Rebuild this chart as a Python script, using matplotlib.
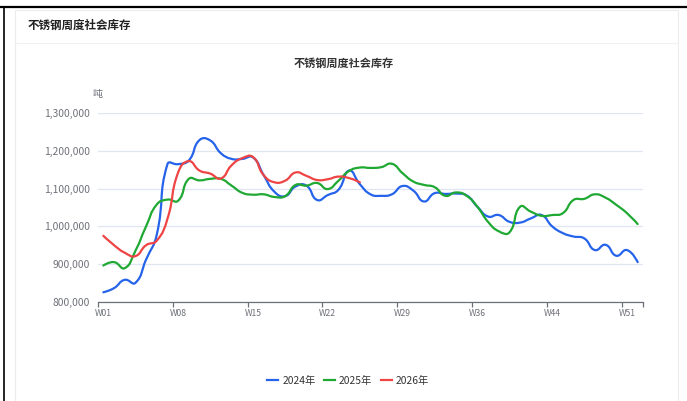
import numpy as np
import matplotlib
matplotlib.use('Agg')
import matplotlib.pyplot as plt
from matplotlib.path import Path
from matplotlib.patches import PathPatch, Rectangle
from matplotlib.lines import Line2D

plt.rcParams['font.family'] = ['Noto Sans CJK SC', 'DejaVu Sans']

# ---------------- data ----------------
weeks = ['W%02d' % i for i in range(1, 53) if i != 40]
label_weeks = ['W01', 'W08', 'W15', 'W22', 'W29', 'W36', 'W44', 'W51']
series_names = ['2024年', '2025年', '2026年']

inv_2024 = [825, 836, 858, 850, 912, 978, 1165, 1165, 1175, 1229,
            1228, 1194, 1179, 1179, 1183, 1136, 1092, 1080, 1106, 1108,
            1070, 1083, 1097, 1148, 1112, 1085, 1081, 1085, 1107, 1095,
            1066, 1088, 1086, 1087, 1082, 1052, 1026, 1030, 1012, 1010,
            1021, 1030, 1000, 982, 973, 968, 937, 951, 922, 937, 905]
inv_2025 = [896, 905, 889, 935, 1000, 1058, 1071, 1068, 1126, 1122,
            1126, 1126, 1108, 1089, 1084, 1085, 1078, 1080, 1110, 1108,
            1115, 1099, 1121, 1147, 1156, 1155, 1157, 1166, 1141, 1119,
            1110, 1104, 1081, 1090, 1081, 1052, 1012, 987, 984, 1052,
            1039, 1028, 1030, 1035, 1070, 1073, 1085, 1076, 1057, 1035, 1006]
inv_2026 = [975, 950, 930, 921, 950, 962, 1020, 1143, 1173, 1148,
            1140, 1127, 1162, 1181, 1184, 1136, 1117, 1121, 1143, 1134,
            1123, 1125, 1132, 1128, 1117]

colors = ['#2563eb', '#1fa832', '#ee4444']

W, H = 687, 401


def fx(px):
    return px / W


def fy(py):
    return 1 - py / H


def smooth_path(xs, ys, sx, sy, smooth=0.5):
    """ECharts-style bezier smoothing computed in pixel space."""
    P = np.column_stack([np.asarray(xs, float) * sx, np.asarray(ys, float) * sy])
    n = len(P)
    verts = [P[0]]
    codes = [Path.MOVETO]
    cp0 = P[0].copy()
    for i in range(1, n):
        p = P[i]
        prev = P[i - 1]
        if i + 1 < n:
            nxt = P[i + 1]
            v = nxt - prev
            l0 = np.hypot(*(p - prev))
            l1 = np.hypot(*(nxt - p))
            r = l1 / (l0 + l1) if (l0 + l1) > 0 else 0.5
            cp1 = p - v * smooth * (1 - r)
            ncp0 = p + v * smooth * r
        else:
            cp1 = p.copy()
            ncp0 = p.copy()
        verts += [cp0, cp1, p]
        codes += [Path.CURVE4] * 3
        cp0 = ncp0
    V = np.array(verts)
    V[:, 0] /= sx
    V[:, 1] /= sy
    return Path(V, codes)


fig = plt.figure(figsize=(W / 100, H / 100), dpi=100)

# outer frame lines
fig.add_artist(Line2D([0, 1], [fy(7), fy(7)], color='black', lw=1.6))
fig.add_artist(Line2D([fx(3.5), fx(3.5)], [fy(7), 0], color='black', lw=1.2))
# card
card = Rectangle((fx(14.5), fy(420)), fx(678) - fx(14.5), fy(10) - fy(420),
                 facecolor='white', edgecolor='#ececec', lw=0.8, zorder=-5)
fig.add_artist(card)
fig.add_artist(Line2D([fx(15), fx(678)], [fy(42.5), fy(42.5)], color='#f0f0f0', lw=0.8, zorder=-4))

fig.text(fx(28), fy(25), '不锈钢周度社会库存', fontsize=8.3, fontweight='bold',
         color='#222222', ha='left', va='center')
fig.text(fx(344), fy(63), '不锈钢周度社会库存', fontsize=8.0, fontweight='bold',
         color='#333333', ha='center', va='center')
fig.text(fx(97), fy(94), '吨', fontsize=7.2, color='#6E7079', ha='center', va='center')

ax = fig.add_axes([fx(98), fy(301.7), (643 - 98) / W, (301.7 - 113.3) / H], zorder=2)
ax.patch.set_alpha(0)
ax.set_xlim(-0.5, len(weeks) - 0.5)
ax.set_ylim(800000, 1300000)

for s in ['top', 'right', 'left']:
    ax.spines[s].set_visible(False)
ax.spines['bottom'].set_color('#6E7079')
ax.spines['bottom'].set_linewidth(0.9)

ax.set_yticks(np.arange(800000, 1300001, 100000))
ax.set_yticklabels(['{:,}'.format(v) for v in range(800000, 1300001, 100000)])
ax.yaxis.grid(True, color='#E0E6F1', lw=0.9)
ax.set_axisbelow(True)
ax.tick_params(axis='y', length=0, pad=6, labelsize=7.4, labelcolor='#6E7079')

label_idx = [weeks.index(w) for w in label_weeks]
ax.set_xticks(label_idx)
ax.set_xticklabels(label_weeks)
ax.set_xticks([i - 0.5 for i in label_idx] + [len(weeks) - 0.5], minor=True)
ax.tick_params(axis='x', which='major', length=0, pad=5, labelsize=6.2, labelcolor='#6E7079')
ax.tick_params(axis='x', which='minor', length=3.6, width=0.9, color='#6E7079')

sx = (643 - 98) / len(weeks)
sy = 188.4 / 500000.0
for vals, col in zip([inv_2024, inv_2025, inv_2026], colors):
    yv = np.array(vals) * 1000
    xv = np.arange(len(yv))
    path = smooth_path(xv, yv, sx, sy)
    ax.add_patch(PathPatch(path, facecolor='none', edgecolor=col, lw=1.6,
                           capstyle='round', joinstyle='round', clip_on=False))

handles = [Line2D([0], [0], color=c, lw=1.6) for c in colors]
fig.legend(handles, series_names, loc='center', bbox_to_anchor=(fx(348), fy(381)),
           ncol=3, frameon=False, fontsize=7.4, handlelength=1.1, handletextpad=0.4,
           columnspacing=0.8, labelcolor='#333333')

fig.savefig('out.png', dpi=100)
